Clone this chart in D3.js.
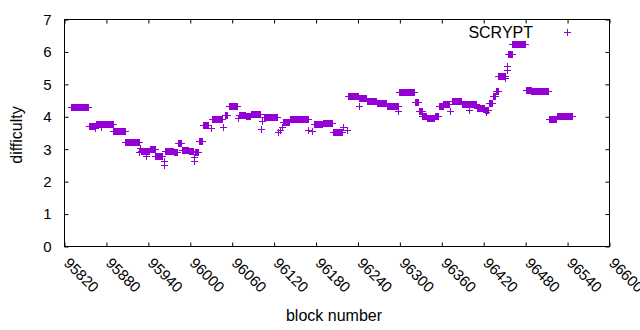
<!DOCTYPE html>
<html><head><meta charset="utf-8">
<script src="https://cdn.jsdelivr.net/npm/d3@7"></script>
<style>
body{margin:0;background:#fff}
svg{display:block}
text{font-family:"Liberation Sans",Arial,sans-serif;fill:#000}
</style>
</head><body>
<svg id="c" width="640" height="330"></svg>
<script>
const seriesName = "SCRYPT";
const xLabel = "block number";
const yLabel = "difficulty";
const xTicks = [95820, 95880, 95940, 96000, 96060, 96120, 96180, 96240, 96300, 96360, 96420, 96480, 96540, 96600];
const yTicks = [0, 1, 2, 3, 4, 5, 6, 7];

// runs of blocks: first block, last block, difficulty
const segStart = [95829,95855,95864,95865,95872,95890,95907,95927,95928,95930,95937,95942,95950,95962,95963,95964,95976,95982,95988,95998,
  96005,96006,96007,96012,96018,96029,96031,96047,96049,96055,96068,96070,96080,96087,96101,96103,96105,96126,96129,96131,
  96133,96143,96152,96169,96174,96177,96190,96204,96219,96224,96226,96241,96242,96253,96267,96281,96298,96299,96321,96327,
  96332,96339,96350,96356,96362,96372,96374,96389,96399,96410,96422,96423,96427,96433,96437,96441,96451,96453,96454,96455,
  96461,96480,96488,96513,96525];
const segEnd = [95854,95863,95864,95889,95872,95906,95926,95927,95928,95941,95937,95949,95960,95962,95963,95975,95981,95987,95997,96004,
  96005,96006,96011,96017,96026,96029,96045,96047,96053,96067,96068,96079,96086,96100,96101,96103,96124,96126,96129,96131,
  96142,96151,96168,96169,96174,96189,96203,96217,96219,96224,96240,96241,96252,96266,96280,96297,96298,96320,96326,96331,
  96338,96349,96355,96361,96370,96372,96388,96409,96399,96421,96426,96423,96432,96436,96440,96450,96451,96453,96454,96460,
  96479,96487,96512,96524,96547];
const segDiff = [4.31,3.71,3.64,3.78,3.68,3.57,3.23,2.90,3.05,2.96,2.80,3.00,2.79,2.65,2.50,2.96,2.91,3.20,2.98,2.93,
  2.75,2.65,2.90,3.24,3.74,3.66,3.94,3.70,4.04,4.34,3.97,4.06,4.02,4.09,3.63,3.86,4.00,3.52,3.60,3.68,
  3.85,3.92,3.94,3.60,3.56,3.78,3.80,3.52,3.68,3.60,4.63,4.33,4.58,4.48,4.42,4.32,4.19,4.77,4.45,4.18,
  4.03,3.96,4.03,4.32,4.40,4.19,4.48,4.40,4.22,4.28,4.20,4.14,4.42,4.64,4.81,5.26,5.20,5.58,5.45,5.94,
  6.23,4.83,4.78,3.92,4.01];

const points = [];
segStart.forEach((s, i) => {
  for (let b = s; b <= segEnd[i]; b++) points.push({block: b, diff: segDiff[i]});
});

const color = "#9400d3";
const svg = d3.select("#c");
const L = 64.5, R = 609.5, T = 19.5, B = 246.5;
const x = d3.scaleLinear().domain([95820, 96600]).range([L, R]);
const y = d3.scaleLinear().domain([0, 7]).range([B, T]);
const h = 3.5;
const ff = '"Liberation Sans",Arial,sans-serif';

function plus(px, py) {
  return `M${px - h},${py}h${2 * h}M${px},${py - h}v${2 * h}`;
}

// points
svg.append("path")
  .attr("d", points.map(p => plus(Math.round(x(p.block)) + 0.5, Math.round(y(p.diff)) + 0.5)).join(""))
  .attr("fill", "none").attr("stroke", color).attr("stroke-width", 1);

// axes
const font = "15px";
const gB = svg.append("g").attr("transform", `translate(0,${B})`)
  .call(d3.axisBottom(x).tickValues(xTicks).tickFormat(d3.format("d")).tickSizeInner(-4).tickSizeOuter(0));
gB.selectAll("text").attr("y", 0).attr("dy", null).attr("x", 0)
  .attr("text-anchor", "start")
  .attr("transform", "translate(-2,17.5) rotate(45)")
  .style("font-size", font).style("font-family", ff).attr("fill", "#000");
svg.append("g").attr("transform", `translate(0,${T})`)
  .call(d3.axisTop(x).tickValues(xTicks).tickFormat("").tickSizeInner(-4).tickSizeOuter(0));
const gL = svg.append("g").attr("transform", `translate(${L},0)`)
  .call(d3.axisLeft(y).tickValues(yTicks).tickFormat(d3.format("d")).tickSizeInner(-4).tickSizeOuter(0).tickPadding(13));
gL.selectAll("text").style("font-size", font).style("font-family", ff).attr("fill", "#000");
svg.append("g").attr("transform", `translate(${R},0)`)
  .call(d3.axisRight(y).tickValues(yTicks).tickFormat("").tickSizeInner(-4).tickSizeOuter(0));
svg.selectAll(".domain").remove();
svg.selectAll(".tick line").attr("stroke", "#000");

// frame
svg.append("rect").attr("x", L).attr("y", T).attr("width", R - L).attr("height", B - T)
  .attr("fill", "none").attr("stroke", "#000").attr("stroke-width", 1);

// axis titles
svg.append("text").attr("x", 334).attr("y", 321).attr("text-anchor", "middle")
  .style("font-size", "16px").text(xLabel);
svg.append("text").attr("transform", "translate(22,135) rotate(-90)").attr("text-anchor", "middle")
  .style("font-size", "16px").text(yLabel);

// legend
svg.append("text").attr("x", 533).attr("y", 37.5).attr("text-anchor", "end")
  .style("font-size", "16px").text(seriesName);
svg.append("path").attr("d", plus(567.5, 32.5)).attr("stroke", color).attr("fill", "none");
</script>
</body></html>
